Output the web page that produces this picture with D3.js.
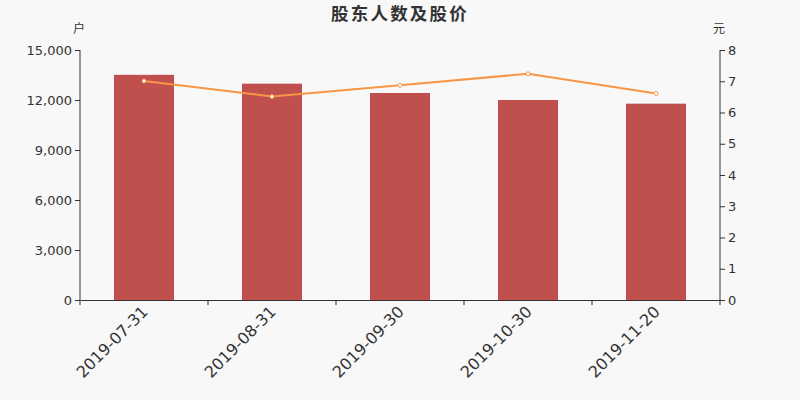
<!DOCTYPE html>
<html><head><meta charset="utf-8">
<script src="https://cdn.jsdelivr.net/npm/d3@7"></script>
<style>body{margin:0;background:#f8f8f8;}svg{display:block;font-family:"DejaVu Sans","Noto Sans CJK SC",sans-serif;}</style>
</head><body><svg id="c" width="800" height="400"></svg>
<script>
const categories = ["2019-07-31","2019-08-31","2019-09-30","2019-10-30","2019-11-20"];
const holders = [13510, 12980, 12420, 12000, 11780];
const prices = [7.01, 6.51, 6.87, 7.24, 6.61];
const leftTicks = [0, 3000, 6000, 9000, 12000, 15000];
const rightTicks = [0,1,2,3,4,5,6,7,8];

const svg = d3.select("#c");
svg.append("rect").attr("width",800).attr("height",400).attr("fill","#f8f8f8");
const L=80,R=720,T=50,B=300;
const x = d3.scaleBand().domain(categories).range([L,R]).paddingInner(0.53125).paddingOuter(0.265625);
const xb = d3.scaleBand().domain(categories).range([L,R]);
const yL = d3.scaleLinear().domain([0,15000]).range([B,T]);
const yR = d3.scaleLinear().domain([0,8]).range([B,T]);
const col="#333";

svg.append("text").attr("x",400).attr("y",20).attr("text-anchor","middle")
  .attr("font-size",17.5).attr("font-weight","bold").attr("fill",col).attr("letter-spacing",2.2)
  .attr("font-family","Noto Sans CJK SC").text("股东人数及股价");

svg.selectAll("rect.bar").data(holders).join("rect").attr("class","bar")
  .attr("x",(d,i)=>x(categories[i])).attr("width",x.bandwidth())
  .attr("y",d=>yL(d)).attr("height",d=>B-yL(d)).attr("fill","#c0504d");

const line = d3.line().x((d,i)=>xb(categories[i])+xb.bandwidth()/2).y(d=>yR(d));
svg.append("path").datum(prices).attr("d",line).attr("fill","none").attr("stroke","#f79646").attr("stroke-width",2);
svg.selectAll("circle.pt").data(prices).join("circle").attr("class","pt")
  .attr("cx",(d,i)=>xb(categories[i])+xb.bandwidth()/2).attr("cy",d=>yR(d)).attr("r",2)
  .attr("fill","#fff").attr("stroke","#f79646").attr("stroke-width",1);

const fmt = d3.format(",");
const ga = svg.append("g").attr("transform",`translate(${L},0)`)
  .call(d3.axisLeft(yL).tickValues(leftTicks).tickFormat(fmt).tickSize(5).tickPadding(3));
const gr = svg.append("g").attr("transform",`translate(${R},0)`)
  .call(d3.axisRight(yR).tickValues(rightTicks).tickSize(5).tickPadding(3));
const gx = svg.append("g").attr("transform",`translate(0,${B})`)
  .call(d3.axisBottom(xb).tickSize(0).tickFormat(""));
gx.selectAll("line.bt").data(d3.range(categories.length+1)).join("line").attr("class","bt")
  .attr("x1",i=>L+i*xb.step()).attr("x2",i=>L+i*xb.step()).attr("y1",0).attr("y2",5).attr("stroke",col);
[ga,gr,gx].forEach(g=>{g.selectAll("path.domain").attr("stroke",col).attr("stroke-width",1);
  g.selectAll(".tick line").attr("stroke",col);
  g.selectAll("text").attr("fill",col).attr("font-size",13).attr("font-family","DejaVu Sans");});
ga.select("path.domain").attr("d",`M0,${T}V${B}`);
gr.select("path.domain").attr("d",`M0,${T}V${B}`);

svg.selectAll("text.xl").data(categories).join("text").attr("class","xl")
  .attr("transform",(d)=>`translate(${xb(d)+xb.bandwidth()/2-3},${B+5}) rotate(-45)`)
  .attr("text-anchor","end").attr("dy","0.7em").attr("font-size",16).attr("fill",col)
  .attr("font-family","DejaVu Sans").text(d=>d);

svg.append("text").attr("x",79).attr("y",33).attr("text-anchor","middle").attr("font-size",12)
  .attr("fill",col).attr("font-family","Noto Sans CJK SC").text("户");
svg.append("text").attr("x",719).attr("y",33).attr("text-anchor","middle").attr("font-size",12)
  .attr("fill",col).attr("font-family","Noto Sans CJK SC").text("元");
</script></body></html>
